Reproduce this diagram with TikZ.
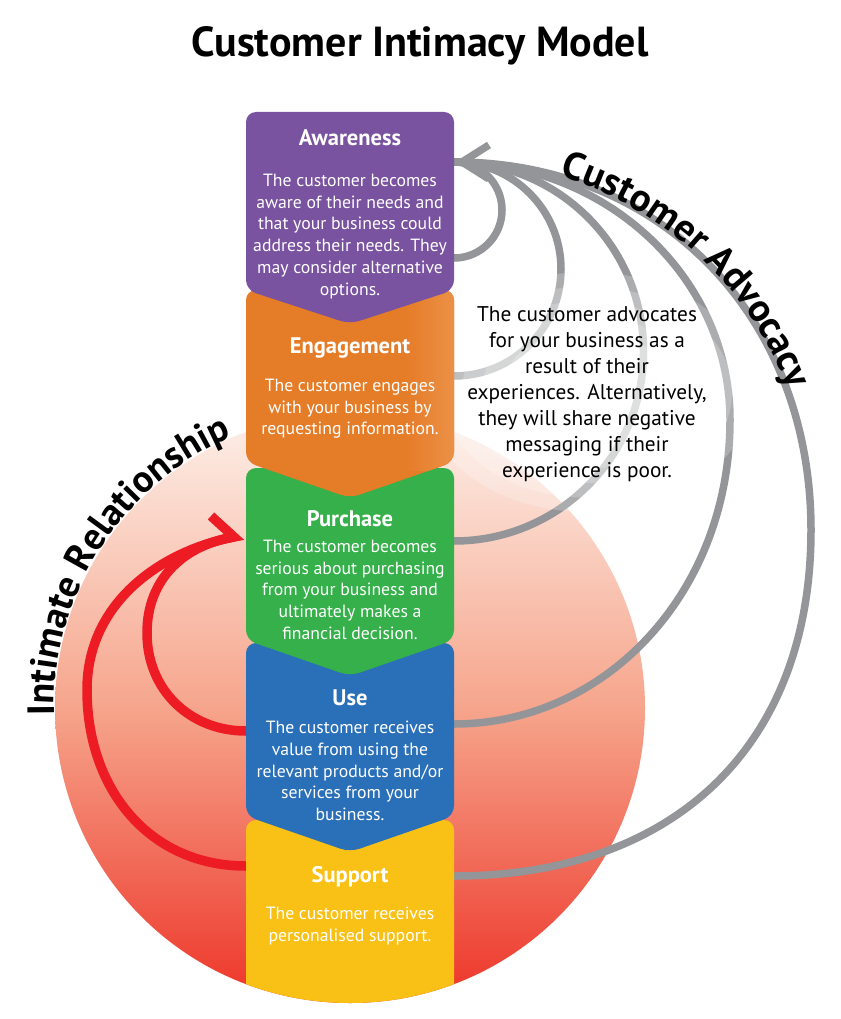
\documentclass[tikz,border=0pt]{standalone}
\usepackage{fontspec}
\setmainfont{PT Sans}
\usetikzlibrary{decorations.text}
\definecolor{cpurple}{RGB}{121,82,160}
\definecolor{corange}{RGB}{229,124,40}
\definecolor{corangelt}{RGB}{236,145,72}
\definecolor{cgreen}{RGB}{53,176,74}
\definecolor{cblue}{RGB}{42,112,184}
\definecolor{cyellow}{RGB}{249,192,22}
\definecolor{cgray}{RGB}{147,149,152}
\definecolor{cred}{RGB}{237,28,36}
\definecolor{ctop}{RGB}{253,240,233}
\definecolor{cmid}{RGB}{246,165,140}
\definecolor{cbot}{RGB}{237,52,40}
\begin{document}
\begin{tikzpicture}[x=1pt,y=1pt,
  boxtitle/.style={text=white, font=\fontsize{22.5}{26}\selectfont\bfseries, inner sep=0pt, text height=16pt, text depth=0pt},
  boxbody/.style={text=white, font=\fontsize{17.7}{21.7}\selectfont, align=center, inner sep=0pt, anchor=north},
  grayarc/.style={draw=cgray, line width=7.5pt},
  redarc/.style={draw=cred, line width=9.5pt},
  chev/.style={rounded corners=10pt},
]
\useasboundingbox[fill=white] (0,0) rectangle (840,-1019);

% big circle
\shade[top color=ctop, bottom color=cbot, middle color=cmid] (350,-708) circle[radius=295];

% red arcs
\coordinate (suL) at (250,-866);
\coordinate (usL) at (250,-731);
\coordinate (redtip) at (234,-537);
\coordinate (redbarb) at (211,-516);
\draw[redarc] (usL) -- ++(-4,0) .. controls (190,-731) and (147,-690) .. (147,-633) .. controls (147,-578) and (185,-545) .. (redtip);
\draw[redarc, line join=miter] (suL) -- ++(-4,0) .. controls (150,-866) and (87,-790) .. (87,-690) .. controls (87,-600) and (165,-550) .. (redtip) -- (redbarb);

% gray arcs
\coordinate (awR) at (450,-258);
\coordinate (enR) at (450,-376);
\coordinate (puR) at (450,-541);
\coordinate (usR) at (450,-724);
\coordinate (suR) at (450,-876);
\coordinate (gtip) at (454,-162);
\coordinate (gbarb) at (462,-162);
\draw[grayarc] (awR) -- ++(4,0) arc[start angle=-90, end angle=90, radius=48];
\draw[grayarc] (enR) -- ++(4,0) arc[start angle=-90, end angle=90, radius=107];
\draw[grayarc] (puR) -- ++(4,0) arc[start angle=-90, end angle=90, radius=189.5];
\draw[grayarc] (usR) -- ++(4,0) .. controls (606,-724) and (730,-592) .. (730,-420) .. controls (730,-278) and (607,-162) .. (gtip);
\draw[grayarc] (suR) -- ++(4,0) .. controls (675,-876) and (811,-745) .. (811,-530) .. controls (811,-317) and (662,-162) .. (gtip);
\draw[grayarc, line join=miter] (489,-145) -- (gbarb) -- (489,-179);

% glow behind advocacy text
\foreach \s in {1.0,0.88,0.76,0.64,0.52} {
  \fill[white, opacity=0.22] (587,-392) ellipse[x radius={165*\s}, y radius={120*\s}];
}
\node[font=\fontsize{21.3}{26}\selectfont, align=center, inner sep=0pt, anchor=north] (adv) at (587,-306)
  {The customer advocates\\for your business as a\\result of their\\experiences. Alternatively,\\they will share negative\\messaging if their\\experience is poor.};

% boxes, bottom first
\begin{scope}
\clip (350,-708) circle[radius=295];
\fill[cyellow, rounded corners=10pt] (246,-820) rectangle (454,-1010);
\end{scope}
\fill[cblue, chev] (246,-730) -- (246,-643) -- (454,-643) -- (454,-816) -- (350,-852) -- (246,-816) -- cycle;
\fill[cgreen, chev] (246,-560) -- (246,-468) -- (454,-468) -- (454,-640) -- (350,-676) -- (246,-640) -- cycle;
\fill[corange, chev] (246,-380) -- (246,-290) -- (454,-290) -- (454,-462) -- (350,-498) -- (246,-462) -- cycle;
\begin{scope}
\clip[chev] (246,-380) -- (246,-290) -- (454,-290) -- (454,-462) -- (350,-498) -- (246,-462) -- cycle;
\shade[left color=corange, right color=corangelt] (405,-290) rectangle (455,-470);
\end{scope}
\fill[cpurple, chev] (246,-200) -- (246,-112) -- (454,-112) -- (454,-290) -- (350,-324) -- (246,-290) -- cycle;

% box texts
\node[boxtitle] (awT) at (350,-138) {Awareness};
\node[boxbody] (awB) at (350,-174) {The customer becomes\\aware of their needs and\\that your business could\\address their needs. They\\may consider alternative\\options.};
\node[boxtitle] (enT) at (350,-345) {Engagement};
\node[boxbody] (enB) at (350,-379) {The customer engages\\with your business by\\requesting information.};
\node[boxtitle] (puT) at (350,-518) {Purchase};
\node[boxbody] (puB) at (350,-540) {The customer becomes\\serious about purchasing\\from your business and\\ultimately makes a\\financial decision.};
\node[boxtitle] (usT) at (350,-697) {Use};
\node[boxbody] (usB) at (350,-721) {The customer receives\\value from using the\\relevant products and/or\\services from your\\business.};
\node[boxtitle] (suT) at (350,-874) {Support};
\node[boxbody] (suB) at (350,-907) {The customer receives\\personalised support.};

% title
\node[font=\fontsize{42}{48}\selectfont\bfseries, inner sep=0pt, text height=30pt, text depth=0pt] (title) at (420,-42) {Customer Intimacy Model};

% curved labels
\path[decorate, decoration={text along path, text align=center, text={|\fontsize{38}{38}\selectfont\bfseries|Intimate Relationship}}]
  ([shift={(350,-708)}]189:296) arc[start angle=189, end angle=106, radius=296];
\path[decorate, decoration={text along path, text align=center, text={|\fontsize{39}{39}\selectfont\bfseries|Customer Advocacy}}]
  ([shift={(454,-519)}]83:359) arc[start angle=83, end angle=11, radius=359];
\end{tikzpicture}
\end{document}
